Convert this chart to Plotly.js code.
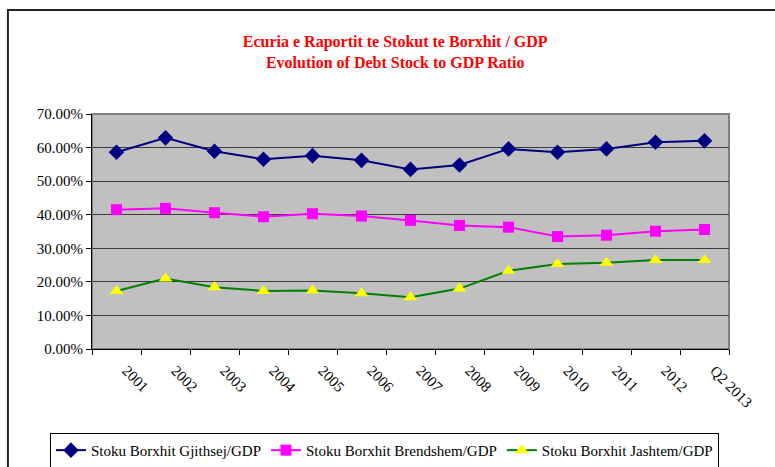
<!DOCTYPE html>
<html>
<head>
<meta charset="utf-8">
<script src="https://cdn.plot.ly/plotly-3.0.1.min.js"></script>
<style>html,body{margin:0;padding:0;background:#fff;}#chart{width:775px;height:467px;}</style>
</head>
<body>
<div id="chart"></div>
<script>
var categories = ["2001","2002","2003","2004","2005","2006","2007","2008","2009","2010","2011","2012","Q2 2013"];
var totalDebt = [58.6, 62.9, 58.9, 56.5, 57.6, 56.2, 53.5, 54.8, 59.6, 58.6, 59.6, 61.6, 62.0];
var domesticDebt = [41.5, 41.9, 40.6, 39.4, 40.3, 39.6, 38.3, 36.8, 36.3, 33.5, 33.9, 35.1, 35.6];
var externalDebt = [17.3, 21.0, 18.4, 17.3, 17.4, 16.6, 15.4, 18.0, 23.3, 25.3, 25.7, 26.5, 26.5];
var seriesNames = ["Stoku Borxhit Gjithsej/GDP", "Stoku Borxhit Brendshem/GDP", "Stoku Borxhit Jashtem/GDP"];
var yTicks = [0, 10, 20, 30, 40, 50, 60, 70];
var yTickLabels = ["0.00%", "10.00%", "20.00%", "30.00%", "40.00%", "50.00%", "60.00%", "70.00%"];

var serif = "Liberation Serif";
var traces = [
  {x: categories, y: totalDebt, name: seriesNames[0], type: "scatter", mode: "lines+markers",
   line: {color: "#000080", width: 2}, marker: {symbol: "diamond", size: 12, color: "#000080"}},
  {x: categories, y: domesticDebt, name: seriesNames[1], type: "scatter", mode: "lines+markers",
   line: {color: "#ff00ff", width: 2}, marker: {symbol: "square", size: 11, color: "#ff00ff"}},
  {x: categories, y: externalDebt, name: seriesNames[2], type: "scatter", mode: "lines+markers",
   line: {color: "#008000", width: 2}, marker: {symbol: "triangle-up", size: 12, color: "#ffff00"}}
];

var layout = {
  width: 775, height: 467,
  margin: {l: 92, r: 46, t: 114, b: 118, autoexpand: false},
  paper_bgcolor: "#ffffff",
  plot_bgcolor: "#c0c0c0",
  font: {family: serif, size: 14, color: "#000"},
  showlegend: true,
  title: {
    text: "<b>Ecuria e Raportit te Stokut te Borxhit / GDP</b><br><b>Evolution of Debt Stock to GDP Ratio</b>",
    font: {family: serif, size: 16, color: "#ff0000"},
    x: 0.476, xref: "paper", xanchor: "center",
    y: 0.899, yref: "container", yanchor: "middle"
  },
  xaxis: {
    type: "category",
    tickangle: 45,
    ticks: "outside", tickson: "boundaries", ticklen: 5, tickcolor: "#000",
    ticklabelstandoff: 6, ticklabelshift: 10,
    showline: true, linecolor: "#000", linewidth: 1,
    showgrid: false, zeroline: false, automargin: false,
    tickfont: {family: serif, size: 15, color: "#000"},
    range: [-0.5, 12.5], fixedrange: true
  },
  yaxis: {
    range: [0, 70], tickvals: yTicks, ticktext: yTickLabels,
    ticks: "outside", ticklen: 5, tickcolor: "#000",
    showline: true, linecolor: "#000", linewidth: 1,
    showgrid: true, gridcolor: "#3a3a3a", gridwidth: 1,
    zeroline: false, automargin: false,
    tickfont: {family: serif, size: 15, color: "#000"},
    fixedrange: true
  },
  legend: {
    orientation: "h", x: -0.066, xanchor: "left", y: -0.357, yanchor: "top",
    bordercolor: "#000", borderwidth: 1, bgcolor: "#fff",
    font: {family: serif, size: 15, color: "#000"},
    itemwidth: 30, tracegroupgap: 0
  },
  shapes: [
    {type: "rect", xref: "paper", yref: "paper", x0: 0, x1: 1, y0: 0, y1: 1,
     line: {color: "#808080", width: 2}, layer: "below"},
    {type: "rect", xref: "paper", yref: "paper", x0: -0.132, x1: 2, y0: -2, y1: 1.443,
     line: {color: "#222", width: 2}}
  ]
};

Plotly.newPlot("chart", traces, layout, {displayModeBar: false, staticPlot: true});
</script>
</body>
</html>
